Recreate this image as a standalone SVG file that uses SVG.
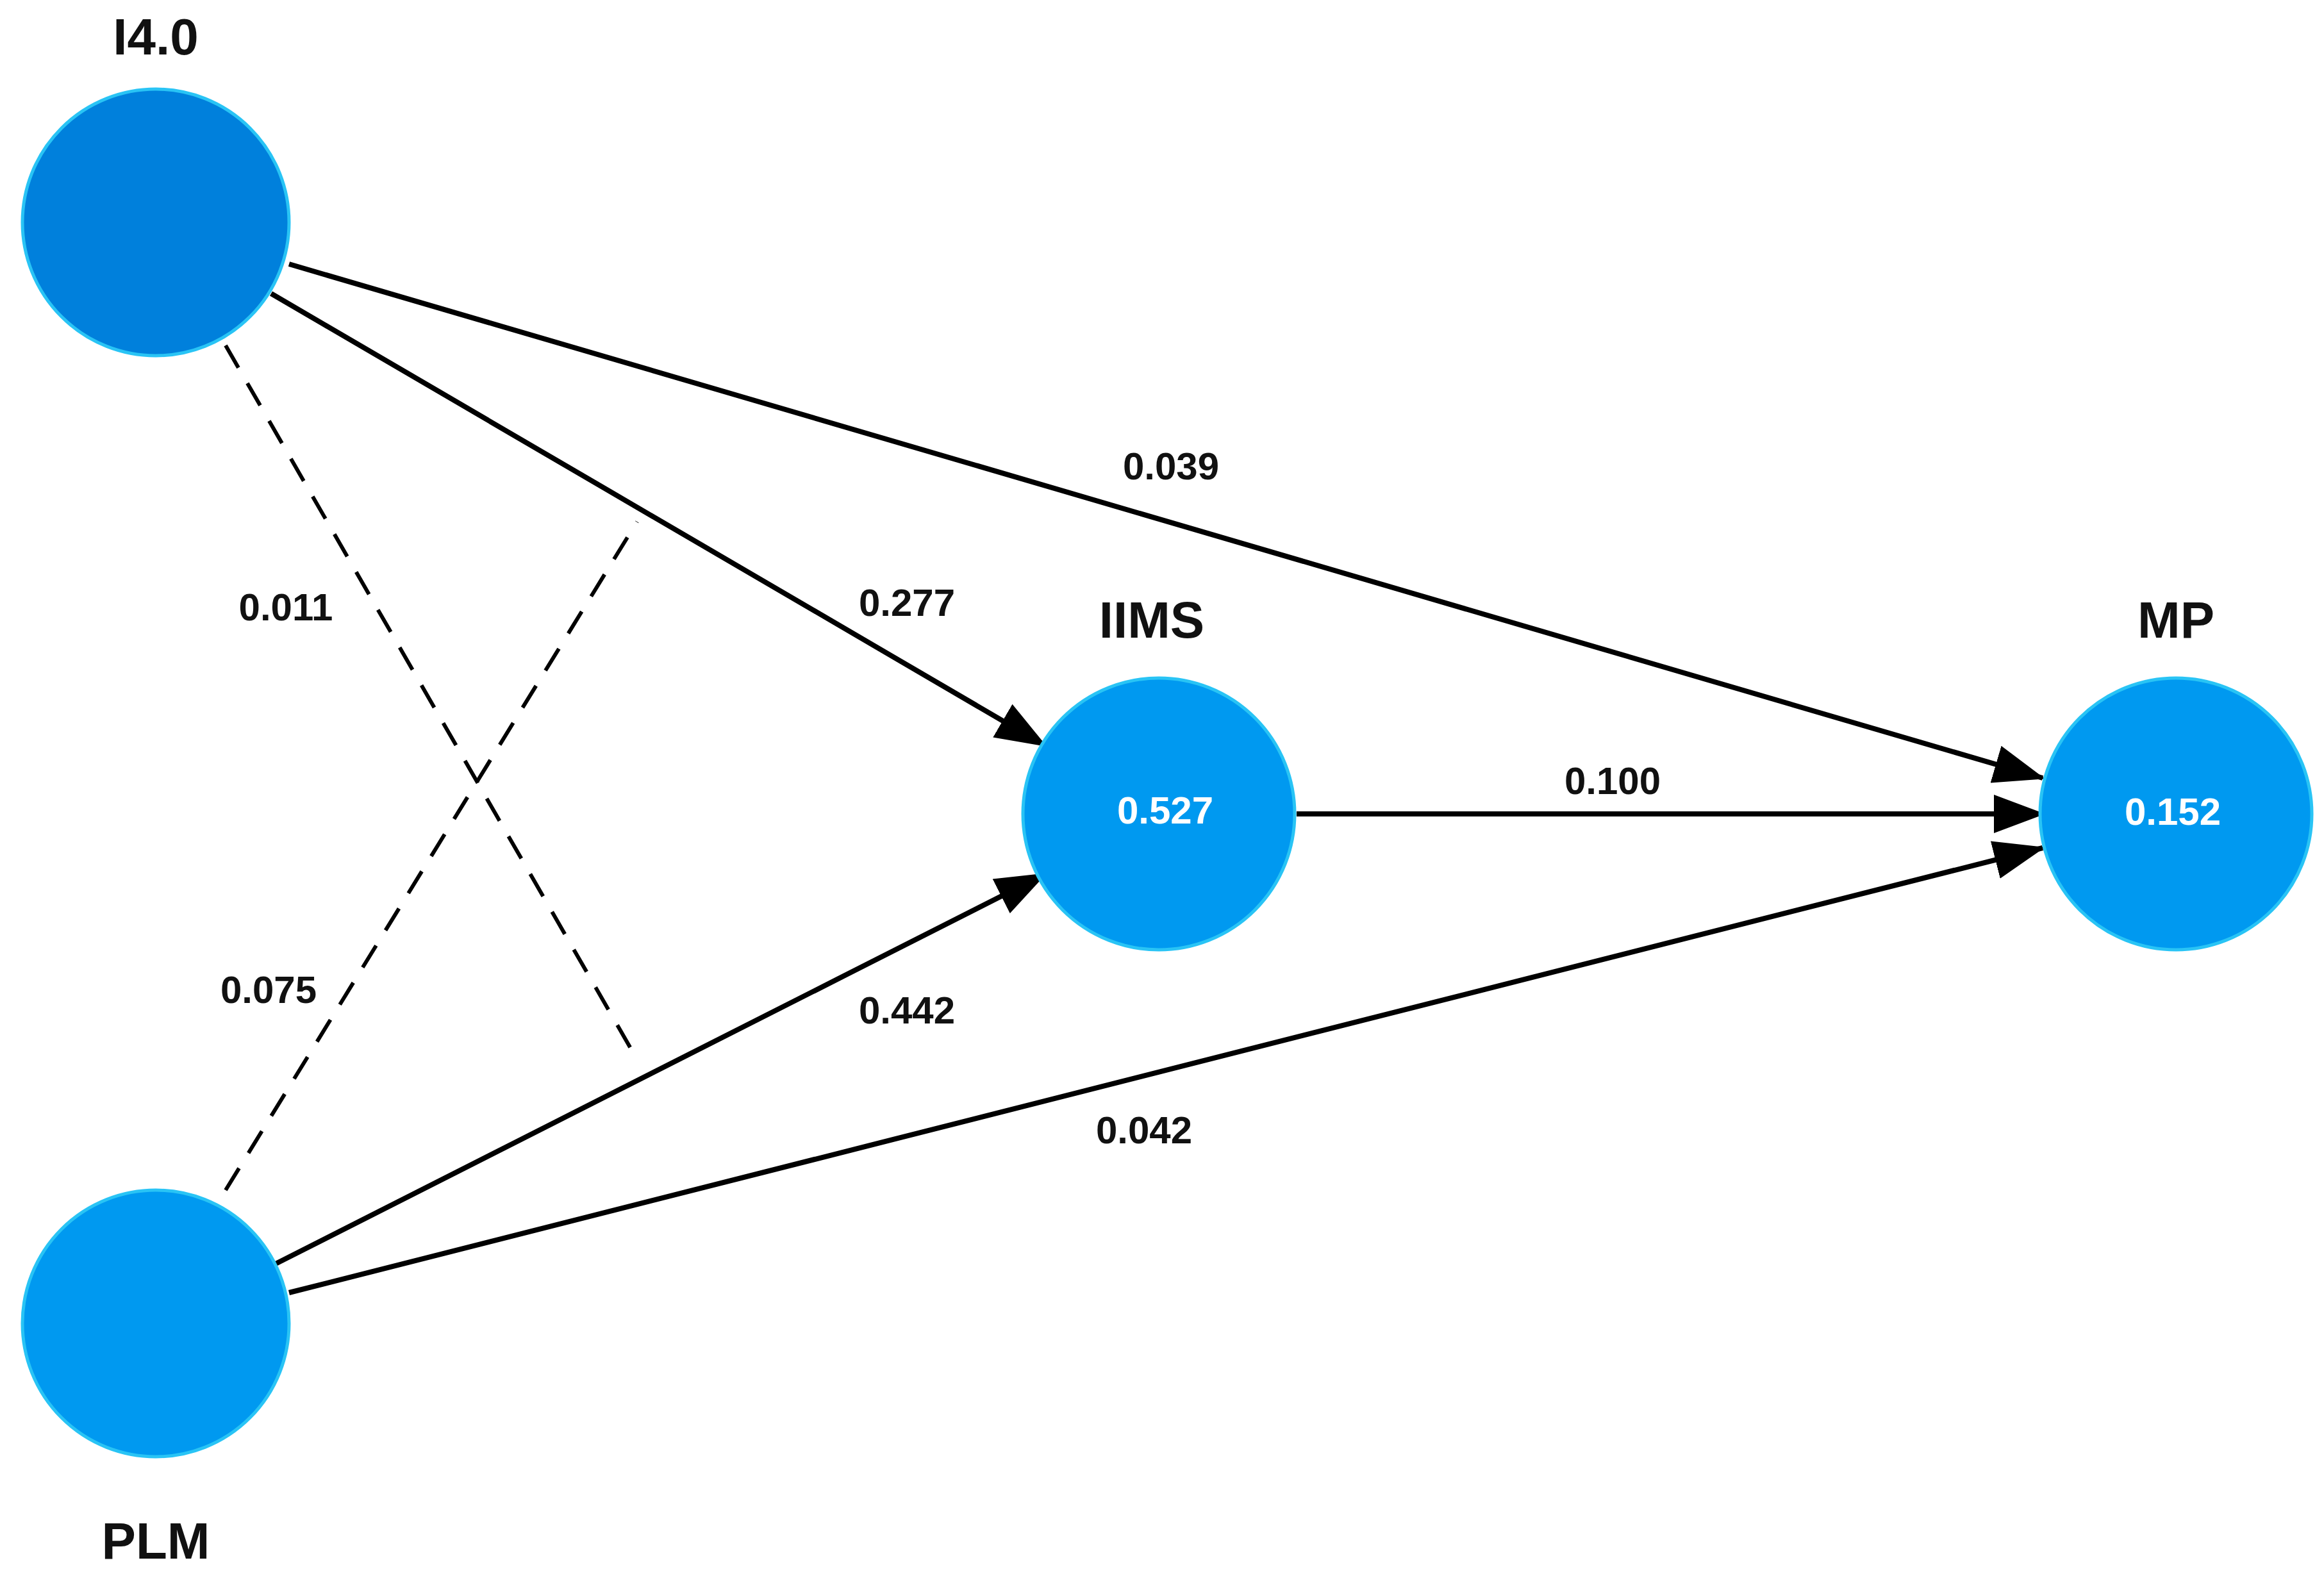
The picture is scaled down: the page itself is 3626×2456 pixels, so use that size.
<svg xmlns="http://www.w3.org/2000/svg" width="3626" height="2456" viewBox="0 0 3626 2456">
<style>
.n{stroke:#29c4f5;stroke-width:5}
.t{font-family:"Liberation Sans",Arial,sans-serif;font-weight:bold;fill:#111;text-anchor:middle}
.title{font-size:80px}
.lab{font-size:60px}
.in{font-size:60px;fill:#fff}
.e{stroke:#000;stroke-width:8;fill:none}
.d{stroke-dasharray:40 28;stroke-width:6}
</style>
<defs>
<marker id="a" markerUnits="userSpaceOnUse" markerWidth="80" markerHeight="60" refX="76" refY="30" orient="auto">
<path d="M0,0 L80,30 L0,60 Z" fill="#000"/>
</marker>
</defs>
<rect width="3626" height="2456" fill="#fff"/>
<g id="connectors">
<line class="e" x1="451" y1="412" x2="3187" y2="1214" marker-end="url(#a)"/>
<line class="e" x1="423" y1="458" x2="1630" y2="1163" marker-end="url(#a)"/>
<line class="e" x1="2023" y1="1270" x2="3187" y2="1270" marker-end="url(#a)"/>
<line class="e" x1="428" y1="1973" x2="1630" y2="1364" marker-end="url(#a)"/>
<line class="e" x1="451" y1="2017" x2="3187" y2="1323" marker-end="url(#a)"/>
<line class="e d" x1="352" y1="539" x2="994" y2="1653"/>
<line class="e d" x1="352" y1="1857" x2="994" y2="814"/>
<text class="t lab" x="1827" y="748">0.039</text>
<text class="t lab" x="1415" y="961">0.277</text>
<text class="t lab" x="446" y="968">0.011</text>
<text class="t lab" x="2516" y="1239">0.100</text>
<text class="t lab" x="419" y="1565">0.075</text>
<text class="t lab" x="1415" y="1597">0.442</text>
<text class="t lab" x="1785" y="1784">0.042</text>
</g>
<g id="I40">
<circle class="n" cx="243" cy="347" r="208" fill="#0080dc"/>
<text class="t title" x="243" y="85">I4.0</text>
</g>
<g id="PLM">
<circle class="n" cx="243" cy="2065" r="208" fill="#0099f0"/>
<text class="t title" x="243" y="2432">PLM</text>
</g>
<g id="IIMS">
<circle class="n" cx="1808" cy="1270" r="212" fill="#0099f0"/>
<text class="t title" x="1797" y="995">IIMS</text>
<text class="t in" x="1818" y="1285">0.527</text>
</g>
<g id="MP">
<circle class="n" cx="3395" cy="1270" r="212" fill="#0099f0"/>
<text class="t title" x="3395" y="995">MP</text>
<text class="t in" x="3390" y="1287">0.152</text>
</g>
</svg>
